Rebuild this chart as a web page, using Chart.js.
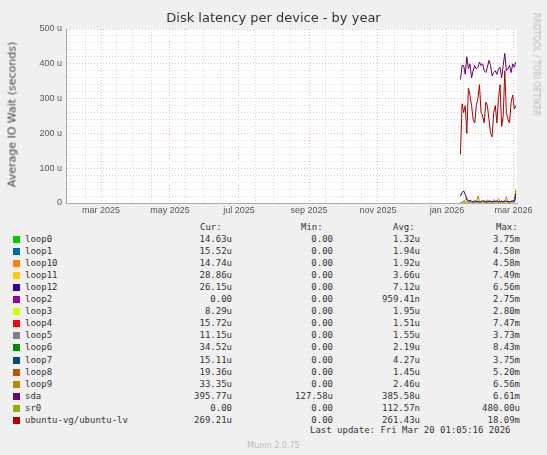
<!DOCTYPE html>
<html><head><meta charset="utf-8">
<script src="https://cdn.jsdelivr.net/npm/chart.js@4"></script>
<style>
body{margin:0;background:#f0f0f0;width:547px;height:455px;position:relative;overflow:hidden;font-family:"DejaVu Sans",sans-serif;}
#wrap{position:absolute;left:0;top:0;width:547px;height:220px;}
.t{position:absolute;white-space:pre;font-weight:normal;}
#legend{position:absolute;left:0;top:222px;font-family:"DejaVu Sans Mono",monospace;font-size:9px;color:#333;}
.row{position:absolute;height:12px;white-space:pre;}
.sw{position:absolute;left:13px;width:7px;height:7px;top:2px;}
</style></head><body>
<div id="wrap"><canvas id="c"></canvas></div>
<div class="t" style="left:0;width:547px;top:10px;text-align:center;font-size:13px;color:#333">Disk latency per device - by year</div>
<div class="t" style="left:-63px;top:108px;transform:rotate(-90deg);font-size:11px;color:#444;width:150px;text-align:center">Average IO Wait (seconds)</div>
<div class="t" style="left:461px;top:60px;transform:rotate(90deg);font-size:8px;color:#bbb;width:150px;text-align:center">RRDTOOL / TOBI OETIKER</div>
<div id="legend"></div>
<div class="t" style="left:310px;top:425px;font-family:'DejaVu Sans Mono',monospace;font-size:9px;color:#333">Last update: Fri Mar 20 01:05:16 2026</div>
<div class="t" style="left:0;width:547px;top:441px;text-align:center;font-size:8px;color:#bbb">Munin 2.0.75</div>
<script>
// x is days since 1 Mar 2025
const tickDays = [0, 61, 122, 184, 245, 306, 365];
const tickLabels = ['mar 2025', 'may 2025', 'jul 2025', 'sep 2025', 'nov 2025', 'jan 2026', 'mar 2026'];
const minorDays = [-28, -14, 14, 28, 45, 75, 91, 106, 137, 153, 168, 199, 214, 230, 260, 275, 291, 321, 337, 351];
const firstDay = 318, stepDays = 1.4;

const names = ['loop0','loop1','loop10','loop11','loop12','loop2','loop3','loop4','loop5','loop6','loop7','loop8','loop9','sda','sr0','ubuntu-vg/ubuntu-lv'];
const colors = ['#00cc00','#0066b3','#ff8000','#ffcc00','#330099','#990099','#ccff00','#ff0000','#808080','#008f00','#00487d','#b35a00','#b38f00','#6b006b','#8fb300','#b30000'];
const cur = ['14.63u','15.52u','14.74u','28.86u','26.15u','0.00','8.29u','15.72u','11.15u','34.52u','15.11u','19.36u','33.35u','395.77u','0.00','269.21u'];
const mins = ['0.00','0.00','0.00','0.00','0.00','0.00','0.00','0.00','0.00','0.00','0.00','0.00','0.00','127.58u','0.00','0.00'];
const avgs = ['1.32u','1.94u','1.92u','3.66u','7.12u','959.41n','1.95u','1.51u','1.55u','2.19u','4.27u','1.45u','2.46u','385.58u','112.57n','261.43u'];
const maxs = ['3.75m','4.58m','4.58m','7.49m','6.56m','2.75m','2.80m','7.47m','3.73m','8.43m','3.75m','5.20m','6.56m','6.61m','480.00u','18.09m'];

// values in microseconds
const sda = [355,395,395,370,420,385,400,360,380,395,385,390,405,395,400,380,375,390,410,395,365,375,380,370,385,390,360,395,430,380,385,395,375,400,390,405];
const ubuntu = [140,285,260,280,200,330,310,280,240,230,280,300,340,260,250,230,290,280,240,200,190,260,280,230,300,340,220,250,380,260,240,230,290,310,270,280];
const loop12 = [20,30,35,25,10,5,8,4,3,6,4,5,3,4,6,5,3,4,5,6,3,4,5,6,4,3,5,4,6,5,4,3,5,6,4,26];
const loop9 = [0,2,5,8,15,6,3,4,2,5,3,20,6,4,3,2,5,8,4,3,2,10,4,3,12,5,4,3,6,18,4,3,5,6,4,33];
const loop11 = [0,1,3,2,6,4,2,3,1,8,3,5,2,3,4,2,3,10,4,2,3,5,2,3,4,2,3,6,2,3,4,2,3,5,4,29];
const sr0 = [0,0,0,0,0,0,0,0,0,0,0,0,0,0,0,0,0,0,0,0,0,0,0,0,0,0,0,0,0,0,0,0,0,0,10,40];
const loop7 = [0,2,3,2,4,3,2,5,3,2,4,3,2,3,4,6,3,2,4,3,2,3,4,3,2,3,5,3,2,4,3,2,3,4,3,15];

const series = {'loop12': loop12, 'loop9': loop9, 'loop11': loop11, 'sr0': sr0, 'loop7': loop7, 'ubuntu-vg/ubuntu-lv': ubuntu, 'sda': sda};

const datasets = Object.keys(series).map(n => ({
  label: n,
  data: series[n].map((v, i) => ({x: firstDay + i * stepDays, y: v})),
  borderColor: colors[names.indexOf(n)],
  borderWidth: 1, pointRadius: 0, tension: 0
}));

const plotBg = {
  id: 'plotBg',
  beforeDraw(chart) {
    const a = chart.chartArea, ctx = chart.ctx;
    ctx.save(); ctx.fillStyle = '#fff';
    ctx.fillRect(a.left, a.top, a.right - a.left, a.bottom - a.top);
    ctx.restore();
  }
};

new Chart(document.getElementById('c'), {
  type: 'line',
  data: {datasets},
  plugins: [plotBg],
  options: {
    responsive: true, maintainAspectRatio: false, animation: false,
    layout: {padding: {top: 29, right: 30, left: 0, bottom: 0}},
    plugins: {legend: {display: false}, tooltip: {enabled: false}},
    scales: {
      x: {
        type: 'linear', min: -31, max: 368,
        afterBuildTicks: ax => { ax.ticks = tickDays.concat(minorDays).sort((a, b) => a - b).map(v => ({value: v})); },
        ticks: {autoSkip: false, callback: v => { const k = tickDays.indexOf(v); return k < 0 ? '' : tickLabels[k]; }, font: {size: 9}, color: '#555', maxRotation: 0, padding: 2},
        grid: {color: c => tickDays.includes(c.tick && c.tick.value) ? '#e8a0a0' : '#cccccc', lineWidth: 0.7, drawTicks: false},
        border: {color: '#aaa', dash: [1, 2]},
        afterFit: ax => { ax.height = 17; }
      },
      y: {
        min: 0, max: 500,
        ticks: {stepSize: 20, callback: v => v % 100 ? '' : (v === 0 ? '0' : v + ' u'), font: {size: 9}, color: '#555', padding: 4, autoSkip: false},
        grid: {color: c => c.tick && c.tick.value % 100 === 0 ? '#e8a0a0' : '#cccccc', lineWidth: 0.7, drawTicks: false},
        border: {color: '#aaa', dash: [1, 2]},
        afterFit: ax => { ax.width = 66; }
      }
    }
  }
});

const leg = document.getElementById('legend');
const hdr = document.createElement('div');
hdr.className = 'row';
hdr.style.top = '0px';
hdr.innerHTML = '<span style="position:absolute;left:200px">Cur:</span><span style="position:absolute;left:301px">Min:</span><span style="position:absolute;left:393px">Avg:</span><span style="position:absolute;left:496px">Max:</span>';
leg.appendChild(hdr);
names.forEach((n, i) => {
  const r = document.createElement('div');
  r.className = 'row';
  r.style.top = (12 + i * 12.05) + 'px';
  r.style.width = '547px';
  const col = (txt, right) => `<span style="position:absolute;right:${547 - right}px">${txt}</span>`;
  r.innerHTML = `<div class="sw" style="background:${colors[i]}"></div><span style="position:absolute;left:25px">${n}</span>` +
    col(cur[i], 232) + col(mins[i], 333) + col(avgs[i], 420) + col(maxs[i], 520);
  leg.appendChild(r);
});
</script>
</body></html>
